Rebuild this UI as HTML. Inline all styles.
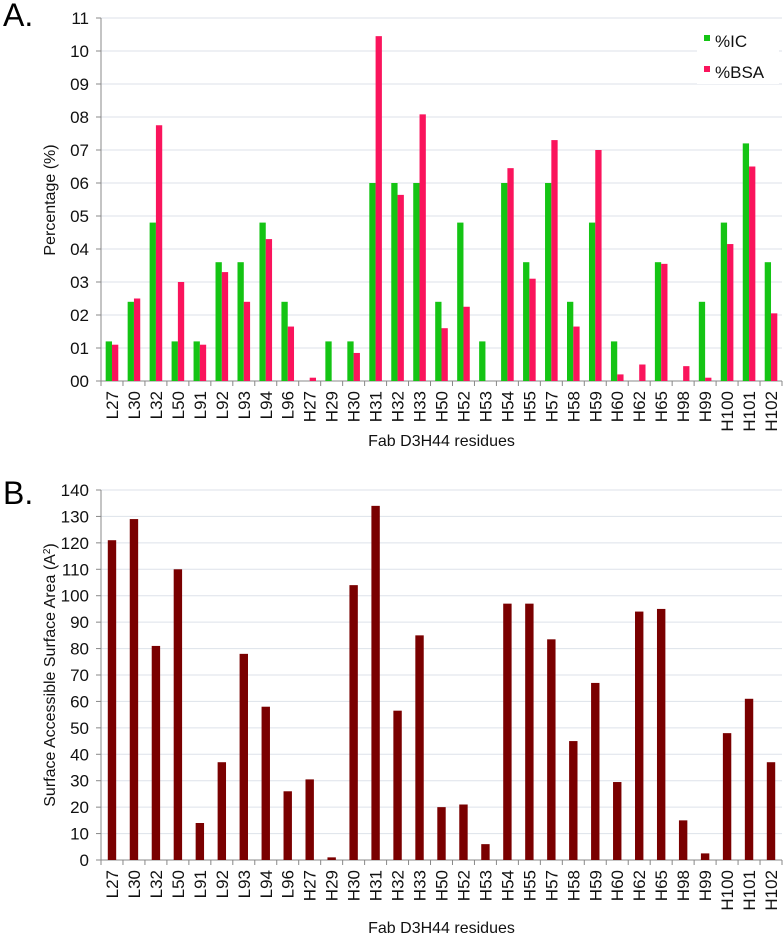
<!DOCTYPE html>
<html><head><meta charset="utf-8"><style>
html,body{margin:0;padding:0;background:#fff;}
svg{display:block;font-family:"Liberation Sans",Arial,sans-serif;}
</style></head><body>
<svg id="fig" width="784" height="938" viewBox="0 0 784 938" xmlns="http://www.w3.org/2000/svg">
<text x="3" y="26" font-size="32" fill="#000">A.</text>
<text x="3" y="504" font-size="32" fill="#000">B.</text>
<g id="chartA"></g>
<g id="chartB"></g>
</svg>
<script>
const categories = ["L27","L30","L32","L50","L91","L92","L93","L94","L96","H27","H29","H30","H31","H32","H33","H50","H52","H53","H54","H55","H57","H58","H59","H60","H62","H65","H98","H99","H100","H101","H102"];
const icValues = [1.2,2.4,4.8,1.2,1.2,3.6,3.6,4.8,2.4,0,1.2,1.2,6.0,6.0,6.0,2.4,4.8,1.2,6.0,3.6,6.0,2.4,4.8,1.2,0,3.6,0,2.4,4.8,7.2,3.6];
const bsaValues = [1.1,2.5,7.75,3.0,1.1,3.3,2.4,4.3,1.65,0.1,0,0.85,10.45,5.64,8.08,1.6,2.25,0,6.45,3.1,7.3,1.65,7.0,0.2,0.5,3.55,0.45,0.1,4.15,6.5,2.05];
const sasaValues = [121,129,81,110,14,37,78,58,26,30.5,1,104,134,56.5,85,20,21,6,97,97,83.5,45,67,29.5,94,95,15,2.5,48,61,37];
const ticksA = ["00","01","02","03","04","05","06","07","08","09","10","11"];
const ticksB = ["0","10","20","30","40","50","60","70","80","90","100","110","120","130","140"];

const NS="http://www.w3.org/2000/svg";
function mk(parent,tag,attrs){const e=document.createElementNS(NS,tag);for(const k in attrs)e.setAttribute(k,attrs[k]);parent.appendChild(e);return e;}

const X0=101, X1=782, bw=(X1-X0)/categories.length;
function xCat(i){return X0+i*bw;}

function axes(g,yScale,ticks,stepVal,y0,yTop,title,ytitle,yTitleY,titleY){
  ticks.forEach((t,i)=>{
    const y=yScale(i*stepVal);
    if(i>0){const l=mk(g,'line',{x1:X0,x2:X1,y1:y,y2:y,stroke:'#dde2ea','stroke-width':1});
    
    }
    const tk=mk(g,'line',{x1:X0-5,x2:X0,y1:y,y2:y,stroke:'#888'});
    
    
    const tx=mk(g,'text',{x:X0-12,y:y+6,'font-size':17,'text-anchor':'end',fill:'#111'});
    tx.textContent=t;
    
    
  });
  const ya=mk(g,'line',{x1:X0,x2:X0,y1:yTop,y2:y0,stroke:'#888'});
  
  
  const xa=mk(g,'line',{x1:X0,x2:X1,y1:y0,y2:y0,stroke:'#888'});
  
  
  categories.forEach((c,i)=>{
    const tk=mk(g,'line',{x1:xCat(i),x2:xCat(i),y1:y0,y2:y0+5,stroke:'#888'});
    
    
    const cx=xCat(i)+bw/2+6;
    const tx=mk(g,'text',{x:0,y:0,'font-size':17,'text-anchor':'end',fill:'#111',transform:`translate(${cx},${y0+10}) rotate(-90)`});
    tx.textContent=c;
    
    
  });
  const lastTk=mk(g,'line',{x1:X1,x2:X1,y1:y0,y2:y0+5,stroke:'#888'});
  
  
  const xt=mk(g,'text',{x:(X0+X1)/2,y:titleY,'font-size':16,'text-anchor':'middle',fill:'#111'});
  xt.textContent=title;
  
  
  const yt=mk(g,'text',{x:0,y:0,'font-size':16,'text-anchor':'middle',fill:'#111',transform:`translate(55,${yTitleY}) rotate(-90)`});
  yt.innerHTML=ytitle;
  
  
}

// Chart A
const gA=document.getElementById('chartA');
const A0=381, Apx=33;
const yA=v=>A0-v*Apx;
axes(gA,yA,ticksA,1,A0,yA(11),"Fab D3H44 residues","Percentage (%)",200,446);
const barW=6.3;
categories.forEach((c,i)=>{
  const cx=xCat(i)+bw/2;
  const h1=icValues[i]*Apx;
  const r1=mk(gA,'rect',{x:cx-barW,y:A0-h1,width:barW,height:h1,fill:'#14c414'});
  
  
  const h2=bsaValues[i]*Apx;
  const r2=mk(gA,'rect',{x:cx,y:A0-h2,width:barW,height:h2,fill:'#fa145c'});
  
  
});
// legend
const lg=mk(gA,'g',{});


mk(lg,'rect',{x:697,y:24,width:82,height:60,fill:'#fff'});
const s1=mk(lg,'rect',{x:704,y:35,width:6,height:6,fill:'#14c414'});


const t1=mk(lg,'text',{x:715,y:47,'font-size':17,fill:'#111'});t1.textContent='%IC';


const s2=mk(lg,'rect',{x:704,y:66,width:6,height:6,fill:'#fa145c'});


const t2=mk(lg,'text',{x:715,y:78,'font-size':17,fill:'#111'});t2.textContent='%BSA';



// Chart B
const gB=document.getElementById('chartB');
const B0=860, Bpx=370/140;
const yB=v=>B0-v*Bpx;
axes(gB,yB,ticksB,10,B0,yB(140),"Fab D3H44 residues","Surface Accessible Surface Area (A<tspan baseline-shift='super' font-size='10'>2</tspan>)",675,933);
categories.forEach((c,i)=>{
  const cx=xCat(i)+bw/2;
  const h=sasaValues[i]*Bpx;
  const r=mk(gB,'rect',{x:cx-4.2,y:B0-h,width:8.4,height:h,fill:'#7a0000'});
  
  
});
</script>
</body></html>
